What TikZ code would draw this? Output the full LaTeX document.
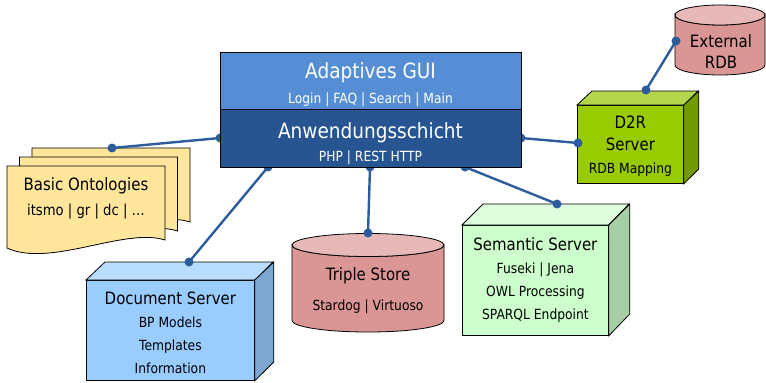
\documentclass[tikz,border=0pt]{standalone}
\usepackage{fontspec}
\setmainfont{DejaVu Sans}[FakeStretch=0.88]
\usepackage{tikz}
\usetikzlibrary{positioning, calc}
\definecolor{guilight}{RGB}{85,142,213}
\definecolor{guidark}{RGB}{38,85,145}
\definecolor{linkblue}{RGB}{44,92,156}
\definecolor{docfront}{RGB}{153,204,255}
\definecolor{doctop}{RGB}{185,221,255}
\definecolor{docside}{RGB}{125,167,209}
\definecolor{semfront}{RGB}{204,255,204}
\definecolor{semtop}{RGB}{221,255,221}
\definecolor{semside}{RGB}{166,207,166}
\definecolor{dtrfront}{RGB}{153,204,0}
\definecolor{dtrtop}{RGB}{179,214,77}
\definecolor{dtrside}{RGB}{115,153,0}
\definecolor{dbbody}{RGB}{217,150,148}
\definecolor{dbtop}{RGB}{230,185,184}
\definecolor{ontoyellow}{RGB}{255,230,155}
\newcommand{\boxtitle}[1]{{\fontsize{17}{20}\selectfont #1}}
\tikzset{
  outline/.style={draw=black, line width=0.8pt},
  face/.style={rectangle, draw=black, line width=0.8pt, align=center,
    inner sep=0pt, font=\fontsize{14}{23}\selectfont},
  guibox/.style={rectangle, draw=black, line width=0.8pt, text=white,
    align=center, minimum width=301pt, inner sep=0pt},
  boxtext/.style={align=center, inner sep=0pt},
  link/.style={draw=linkblue, line width=2.4pt},
  linkdot/.style={fill=linkblue}
}

\begin{document}
\begin{tikzpicture}[x=1pt, y=-1pt]
  \useasboundingbox (0,0) rectangle (766,383);

  % Basic Ontologies (stacked pages)
  \foreach \dx/\dy in {25/-18, 12.5/-9, 0/0}
    \draw[outline, fill=ontoyellow, shift={(\dx,\dy)}]
      (7,166) -- (165,166) -- (165,240)
      .. controls (125,227) and (50,268) .. (7,248) -- cycle;
  \node[boxtext, font=\fontsize{15}{25}\selectfont] (onto) at (86,198)
    {\boxtitle{Basic Ontologies}\\itsmo | gr | dc | …};
  \coordinate (ontodot) at (112,148);

  % Document Server
  \node[face, fill=docfront, minimum width=168pt, minimum height=100pt,
    anchor=north west] (doc) at (86,280)
    {\boxtitle{\rule{0pt}{18pt}Document Server}\\BP Models\\Templates\\Information};
  \draw[outline, fill=doctop] (doc.north west) -- ++(19,-18) -- ++(168,0)
    -- (doc.north east) -- cycle;
  \draw[outline, fill=docside] (doc.north east) -- ++(19,-18) -- ++(0,100)
    -- (doc.south east) -- cycle;
  \coordinate (docdot) at (189,262);

  % Triple Store
  \draw[outline, fill=dbbody] (292,245) -- (292,320.5)
    arc[start angle=180, end angle=0, x radius=76, y radius=11.5]
    -- (444,245)
    arc[start angle=0, end angle=180, x radius=76, y radius=11.5] -- cycle;
  \draw[outline, fill=dbtop] (368,245) ellipse[x radius=76, y radius=11.5];
  \node[boxtext, font=\fontsize{14}{20}\selectfont] (triple) at (368,291)
    {\boxtitle{Triple Store}\\[10pt]Stardog | Virtuoso};
  \coordinate (tripledot) at (368,233);

  % Semantic Server
  \node[face, fill=semfront, minimum width=146pt, minimum height=110pt,
    anchor=north west] (sem) at (462,225)
    {\boxtitle{Semantic Server}\\Fuseki | Jena\\OWL Processing\\SPARQL Endpoint};
  \draw[outline, fill=semtop] (sem.north west) -- ++(21,-21) -- ++(146,0)
    -- (sem.north east) -- cycle;
  \draw[outline, fill=semside] (sem.north east) -- ++(21,-21) -- ++(0,110)
    -- (sem.south east) -- cycle;
  \coordinate (semdot) at (557,204);

  % D2R Server
  \node[face, fill=dtrfront, minimum width=106pt, minimum height=78pt,
    anchor=north west, font=\fontsize{14}{22}\selectfont] (dtr) at (577,105)
    {\boxtitle{\rule{0pt}{16pt}D2R}\\\boxtitle{Server}\\[1pt]RDB Mapping};
  \draw[outline, fill=dtrtop] (dtr.north west) -- ++(15,-14) -- ++(106,0)
    -- (dtr.north east) -- cycle;
  \draw[outline, fill=dtrside] (dtr.north east) -- ++(15,-14) -- ++(0,78)
    -- (dtr.south east) -- cycle;
  \coordinate (dtrleft) at (578,143);
  \coordinate (dtrtopdot) at (646,90);

  % External RDB
  \draw[outline, fill=dbbody] (675,15) -- (675,65)
    arc[start angle=180, end angle=0, x radius=45, y radius=10]
    -- (765,15)
    arc[start angle=0, end angle=180, x radius=45, y radius=10] -- cycle;
  \draw[outline, fill=dbtop] (720,15) ellipse[x radius=45, y radius=10];
  \node[boxtext, font=\fontsize{17}{21}\selectfont] (extrdb) at (721,52)
    {External\\RDB};
  \coordinate (extdot) at (676,41);

  \draw[link] (dtrtopdot) -- (extdot);
  \fill[linkdot] (dtrtopdot) circle[radius=4.5] (extdot) circle[radius=4.5];

  % connectors to the application layer
  \coordinate (appL) at (220,138);
  \coordinate (appR) at (521,138);
  \coordinate (appB1) at (268,167);
  \coordinate (appB2) at (370,167);
  \coordinate (appB3) at (465,167);
  \draw[link] (appL) -- (ontodot);
  \draw[link] (appR) -- (dtrleft);
  \draw[link] (appB1) -- (docdot);
  \draw[link] (appB2) -- (tripledot);
  \draw[link] (appB3) -- (semdot);
  \fill[linkdot] (appL) circle[radius=4.5] (ontodot) circle[radius=4.5]
    (appR) circle[radius=4.5] (dtrleft) circle[radius=4.5]
    (appB1) circle[radius=4.5] (docdot) circle[radius=4.5]
    (appB2) circle[radius=4.5] (tripledot) circle[radius=4.5]
    (appB3) circle[radius=4.5] (semdot) circle[radius=4.5];

  % GUI and application layer
  \node[guibox, fill=guilight, minimum height=57pt,
    font=\fontsize{14}{25}\selectfont] (gui) at (370.5,80.5)
    {{\fontsize{21}{25}\selectfont\rule{0pt}{25pt}Adaptives GUI}\\Login | FAQ | Search | Main};
  \node[guibox, fill=guidark, minimum height=58pt,
    font=\fontsize{14}{23}\selectfont] (app) at (370.5,138)
    {{\fontsize{21}{23}\selectfont\rule{0pt}{28pt}Anwendungsschicht}\\PHP | REST HTTP};
\end{tikzpicture}
\end{document}
